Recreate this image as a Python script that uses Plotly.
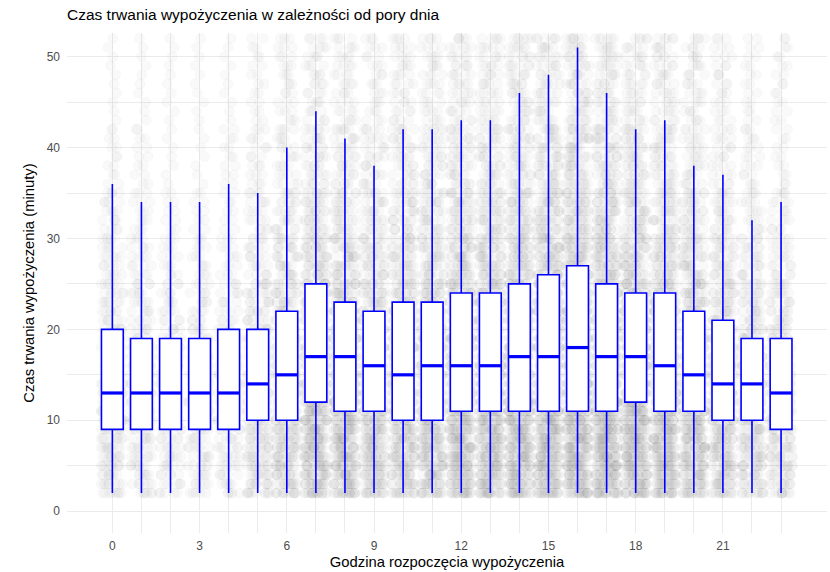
import plotly.graph_objects as go

# Hour of the day at which a rental started
hours = list(range(24))

# Box-plot statistics per hour (minutes)
q1 = [9, 9, 9, 9, 9, 10, 10, 12, 11, 11, 10, 10, 11, 11, 11, 11, 11, 11, 12, 11, 11, 10, 10, 9]
median = [13, 13, 13, 13, 13, 14, 15, 17, 17, 16, 15, 16, 16, 16, 17, 17, 18, 17, 17, 16, 15, 14, 14, 13]
q3 = [20, 19, 19, 19, 20, 20, 22, 25, 23, 22, 23, 23, 24, 24, 25, 26, 27, 25, 24, 24, 22, 21, 19, 19]
whisker_low = [2] * 24
whisker_high = [36, 34, 34, 34, 36, 35, 40, 44, 41, 38, 42, 42, 43, 43, 46, 48, 51, 46, 42, 43, 38, 37, 32, 34]

# Individual rentals: duration bands (inclusive minute ranges) and, for each
# hour, the number of rentals recorded at every whole minute inside a band
duration_bands = [(2, 4), (5, 8), (9, 12), (13, 16), (17, 20), (21, 25), (26, 30), (31, 35), (36, 42), (43, 52)]
rentals_per_minute = [
    [8, 9, 9, 9, 8, 6, 5, 4, 2, 1],
    [6, 7, 7, 7, 6, 5, 4, 3, 2, 1],
    [5, 6, 6, 6, 5, 4, 3, 2, 1, 1],
    [5, 6, 6, 6, 5, 4, 3, 2, 1, 1],
    [5, 6, 6, 6, 5, 4, 3, 2, 2, 1],
    [10, 11, 11, 10, 9, 7, 5, 4, 3, 2],
    [13, 15, 15, 14, 13, 10, 8, 6, 4, 3],
    [19, 21, 21, 21, 19, 15, 12, 9, 6, 4],
    [19, 21, 21, 20, 18, 14, 11, 8, 6, 4],
    [15, 17, 17, 16, 14, 11, 9, 7, 5, 3],
    [15, 17, 17, 16, 14, 12, 10, 8, 6, 4],
    [16, 18, 18, 17, 15, 13, 10, 8, 6, 4],
    [20, 22, 22, 21, 19, 16, 13, 10, 7, 5],
    [20, 22, 22, 21, 19, 16, 13, 10, 7, 5],
    [21, 23, 23, 22, 20, 17, 14, 11, 8, 6],
    [21, 23, 23, 22, 21, 18, 15, 12, 9, 6],
    [22, 24, 24, 24, 22, 19, 16, 13, 10, 7],
    [23, 25, 25, 24, 22, 18, 15, 12, 9, 6],
    [22, 24, 24, 23, 21, 17, 13, 10, 8, 5],
    [20, 22, 22, 21, 19, 15, 12, 9, 7, 5],
    [17, 19, 19, 18, 16, 13, 10, 8, 5, 4],
    [14, 16, 16, 15, 13, 10, 8, 6, 4, 3],
    [11, 13, 13, 12, 10, 8, 6, 4, 3, 2],
    [10, 11, 11, 10, 9, 7, 5, 4, 2, 2],
]

x_ticks = [0, 3, 6, 9, 12, 15, 18, 21]
y_ticks = [0, 10, 20, 30, 40, 50]

TITLE = "Czas trwania wypożyczenia w zależności od pory dnia"
X_TITLE = "Godzina rozpoczęcia wypożyczenia"
Y_TITLE = "Czas trwania wypożyczenia (minuty)"

FONT = "Liberation Sans, Arial, sans-serif"
BLUE = "#0000ff"
GRID = "#ebebeb"

# Expand the count table into one record per rental
rental_hour, rental_minutes = [], []
for h, row in zip(hours, rentals_per_minute):
    for (lo, hi), n in zip(duration_bands, row):
        for m in range(lo, hi + 1):
            rental_hour.extend([h] * n)
            rental_minutes.extend([m] * n)

fig = go.Figure()

# Jittered cloud of all rentals (box itself hidden)
fig.add_trace(go.Box(
    x=rental_hour, y=rental_minutes,
    boxpoints="all", jitter=1, pointpos=0, width=0.8,
    fillcolor="rgba(0,0,0,0)", line=dict(width=0, color="rgba(0,0,0,0)"),
    marker=dict(color="rgba(115,115,115,0.042)", size=10,
                line=dict(width=0.8, color="rgba(115,115,115,0.045)")),
    hoverinfo="skip", showlegend=False,
))

# Box plots from the per-hour statistics
fig.add_trace(go.Box(
    x=hours, q1=q1, median=median, q3=q3,
    lowerfence=whisker_low, upperfence=whisker_high,
    width=0.75, whiskerwidth=0, boxpoints=False,
    fillcolor="white", line=dict(color=BLUE, width=1.6),
    hoverinfo="skip", showlegend=False,
))

# Thicker median bars
mx, my = [], []
for h, m in zip(hours, median):
    mx += [h - 0.375, h + 0.375, None]
    my += [m, m, None]
fig.add_trace(go.Scatter(
    x=mx, y=my, mode="lines", line=dict(color=BLUE, width=3.2),
    hoverinfo="skip", showlegend=False,
))

fig.update_layout(
    width=830, height=572,
    margin=dict(l=67, r=3, t=33, b=39),
    paper_bgcolor="white", plot_bgcolor="white",
    boxmode="overlay",
    font=dict(family=FONT, color="#000000"),
    title=dict(
        text=TITLE, font=dict(size=15.5, color="#000000", family=FONT),
        x=67 / 830, xanchor="left", xref="container",
        y=1 - 15 / 572, yanchor="middle", yref="container",
    ),
)

fig.update_xaxes(
    range=[-1.56, 24.58],
    tickmode="array", tickvals=x_ticks, ticktext=[str(v) for v in x_ticks],
    tickfont=dict(size=12, color="#4d4d4d"),
    ticks="", ticklabelstandoff=4,
    showgrid=True, gridcolor=GRID, gridwidth=1.1,
    minor=dict(tickmode="array", tickvals=hours, showgrid=True, gridcolor=GRID, gridwidth=0.8),
    zeroline=False, showline=False,
    title=dict(text=X_TITLE, font=dict(size=14.8, color="#000000"), standoff=4),
    automargin=False,
)
fig.update_yaxes(
    range=[-2.4, 52.6],
    tickmode="array", tickvals=y_ticks, ticktext=[str(v) for v in y_ticks],
    tickfont=dict(size=12, color="#4d4d4d"),
    ticks="", ticklabelstandoff=6,
    showgrid=True, gridcolor=GRID, gridwidth=1.1,
    minor=dict(dtick=5, showgrid=True, gridcolor=GRID, gridwidth=0.8),
    zeroline=False, showline=False,
    title=dict(text=Y_TITLE, font=dict(size=14.8, color="#000000"), standoff=8),
    automargin=False,
)

fig.write_html("out.html")
